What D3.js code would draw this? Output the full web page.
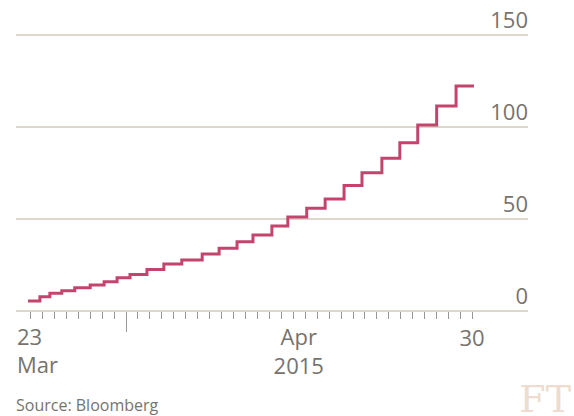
<!DOCTYPE html>
<html>
<head>
<meta charset="utf-8">
<script src="https://cdn.jsdelivr.net/npm/d3@7/dist/d3.min.js"></script>
<style>
  html, body { margin: 0; padding: 0; background: #ffffff; }
  svg { display: block; }
  text { font-family: "Open Sans", sans-serif; fill: #76736e; }
</style>
</head>
<body>
<svg id="chart" width="574" height="416"></svg>
<script>
// ---- data ----
const stepDates = [
  "2015-03-23T20:00", "2015-03-24T20:00", "2015-03-25T16:00", "2015-03-26T16:00",
  "2015-03-27T18:00", "2015-03-29T01:00", "2015-03-30T05:00", "2015-03-31T07:00",
  "2015-04-01T09:00", "2015-04-02T19:00", "2015-04-04T05:00", "2015-04-05T17:00",
  "2015-04-07T10:00", "2015-04-08T20:00", "2015-04-10T08:00", "2015-04-11T16:00",
  "2015-04-13T06:00", "2015-04-14T14:00", "2015-04-16T04:00", "2015-04-17T17:00",
  "2015-04-19T07:00", "2015-04-20T19:00", "2015-04-22T11:00", "2015-04-23T23:00",
  "2015-04-25T11:00", "2015-04-27T01:00", "2015-04-28T16:00", "2015-04-30T04:00"
];
const stepValues = [
  5.4, 7.8, 9.6, 11.0, 12.7, 14.1, 15.9, 18.1, 19.9, 22.5, 25.5, 27.7, 31.0, 34.1,
  37.7, 41.3, 46.2, 51.1, 55.8, 60.9, 68.2, 75.2, 83.0, 91.5, 101.1, 111.4, 122.3, 122.3
];
const yTicks = [0, 50, 100, 150];
const xDomain = ["2015-03-23", "2015-04-30"];
const firstTickDay = "2015-03-24";
const monthTick = "2015-04-01";
const xLabelFirst = ["23", "Mar"];
const xLabelMonth = ["Apr", "2015"];
const xLabelLast = "30";
const sourceText = "Source: Bloomberg";
const logoText = "FT";

// ---- layout ----
const svg = d3.select("#chart");
const gridLeft = 16, gridRight = 528;
const parse = s => new Date(s + (s.length === 10 ? "T00:00" : ""));

const x = d3.scaleTime()
  .domain(xDomain.map(parse))
  .range([18, 472]);
const y = d3.scaleLinear().domain([0, 150]).range([311, 35]);

// gridlines
svg.append("g").selectAll("line").data(yTicks).join("line")
  .attr("x1", gridLeft).attr("x2", gridRight)
  .attr("y1", d => y(d)).attr("y2", d => y(d))
  .attr("stroke", "#dcd6cd").attr("stroke-width", 2);

// y labels
svg.append("g").selectAll("text").data(yTicks).join("text")
  .attr("x", gridRight).attr("y", d => y(d) - 7)
  .attr("text-anchor", "end")
  .style("font-size", "22px")
  .text(d => d);

// day ticks
const days = d3.timeDay.range(parse(firstTickDay), d3.timeDay.offset(parse(xDomain[1]), 1));
const mt = parse(monthTick).getTime();
svg.append("g").selectAll("line").data(days).join("line")
  .attr("x1", d => Math.round(x(d)) + 0.5).attr("x2", d => Math.round(x(d)) + 0.5)
  .attr("y1", y(0) + 1)
  .attr("y2", d => d.getTime() === mt ? y(0) + 21 : y(0) + 8)
  .attr("stroke", "#9a9792").attr("stroke-width", 1);

// x labels
const xl = svg.append("g").style("font-size", "22px");
xl.append("text").attr("x", x(parse(xDomain[0])) - 1).attr("y", 345)
  .attr("text-anchor", "start").text(xLabelFirst[0]);
xl.append("text").attr("x", x(parse(xDomain[0])) - 1).attr("y", 373)
  .attr("text-anchor", "start").text(xLabelFirst[1]);
const monthMid = (x(parse(monthTick)) + x(parse(xDomain[1]))) / 2;
xl.append("text").attr("x", monthMid).attr("y", 345)
  .attr("text-anchor", "middle").text(xLabelMonth[0]);
xl.append("text").attr("x", monthMid).attr("y", 374)
  .attr("text-anchor", "middle").text(xLabelMonth[1]);
xl.append("text").attr("x", x(parse(xDomain[1]))).attr("y", 346)
  .attr("text-anchor", "middle").text(xLabelLast);

// step line
const pts = stepDates.map((d, i) => [parse(d), stepValues[i]]);
const line = d3.line()
  .x(d => x(d[0])).y(d => y(d[1]))
  .curve(d3.curveStepAfter);
svg.append("path").datum(pts)
  .attr("d", line)
  .attr("fill", "none")
  .attr("stroke", "#c4446d")
  .attr("stroke-width", 3)
  .attr("stroke-linejoin", "miter");

// source
svg.append("text").attr("x", 16).attr("y", 411)
  .style("font-size", "16px").text(sourceText);

// FT logo
svg.append("text").attr("x", 571).attr("y", 412)
  .attr("text-anchor", "end")
  .style("font-family", "'DejaVu Serif', serif")
  .style("font-size", "38px")
  .style("fill", "#eddccf")
  .text(logoText);
</script>
</body>
</html>
